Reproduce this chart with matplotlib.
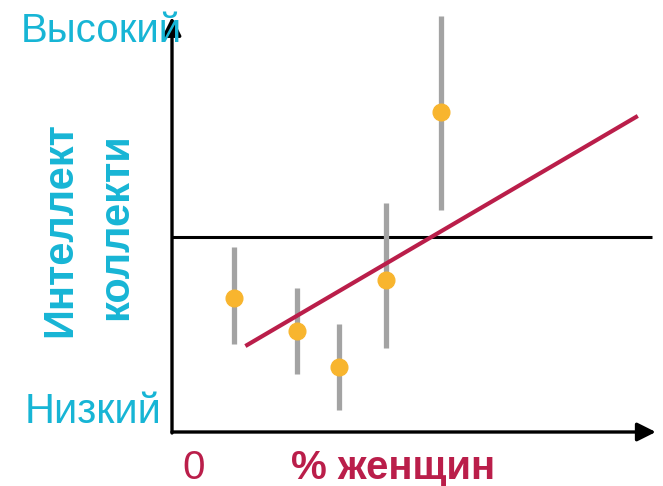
import matplotlib.pyplot as plt
from matplotlib import font_manager

# % women in the group vs collective intelligence score
women_pct = [13.8, 27.8, 37.1, 47.6, 59.8]
intel = [-0.61, -0.94, -1.30, -0.43, 1.25]
err_low = [-1.07, -1.37, -1.73, -1.11, 0.27]
err_high = [-0.10, -0.51, -0.87, 0.34, 2.21]

# trend line endpoints
trend_x = [16.7, 103.1]
trend_y = [-1.08, 1.20]

cyan = '#17B5D5'
crimson = '#BA1E4A'

plt.rcParams['font.family'] = ['Liberation Sans', 'DejaVu Sans']
names = {f.name for f in font_manager.fontManager.ttflist}
narrow = 'Liberation Sans Narrow' in names

fig = plt.figure(figsize=(6.63, 4.86), dpi=100)
ax = fig.add_axes([0, 0, 1, 1])
ax.set_xlim(-38.22, 109.1)
ax.set_ylim(-2.49, 2.37)
ax.axis('off')

# axes with arrows
ax.annotate('', xy=(107.5, -1.95), xytext=(0, -1.95),
            arrowprops=dict(arrowstyle='-|>', lw=2.4, color='black', mutation_scale=28,
                            shrinkA=0, shrinkB=0))
ax.annotate('', xy=(0, 2.20), xytext=(0, -1.96),
            arrowprops=dict(arrowstyle='-|>', lw=2.4, color='black', mutation_scale=28,
                            shrinkA=0, shrinkB=0))
ax.plot([0, 106.7], [0, 0], color='black', lw=2.2, solid_capstyle='butt')

# error bars and points
ax.vlines(women_pct, err_low, err_high, color='#A3A3A3', lw=3.8)
ax.plot(trend_x, trend_y, color=crimson, lw=3)
ax.plot(women_pct, intel, 'o', color='#F8B52E', markersize=12, zorder=5)

ax.text(-33.5, 2.06, 'Высокий', color=cyan, fontsize=29, va='center', ha='left')
ax.text(-32.7, -1.75, 'Низкий', color=cyan, fontsize=30, va='center', ha='left')

if narrow:
    rot_font = dict(family=['Liberation Sans Narrow', 'DejaVu Sans'], fontsize=36.5)
else:
    rot_font = dict(fontsize=30)
ax.text(-24.9, 0.07, 'Интеллект', color=cyan, fontweight='bold',
        rotation=90, va='center', ha='center', **rot_font)
ax.text(-12.4, 0.10, 'коллекти', color=cyan, fontweight='bold',
        rotation=90, va='center', ha='center', **rot_font)
ax.text(4.8, -2.31, '0', color=crimson, fontsize=29, va='center', ha='center')
ax.text(49.1, -2.31, '% женщин', color=crimson, fontsize=29, fontweight='bold',
        va='center', ha='center')

plt.savefig('out.png', dpi=100)
